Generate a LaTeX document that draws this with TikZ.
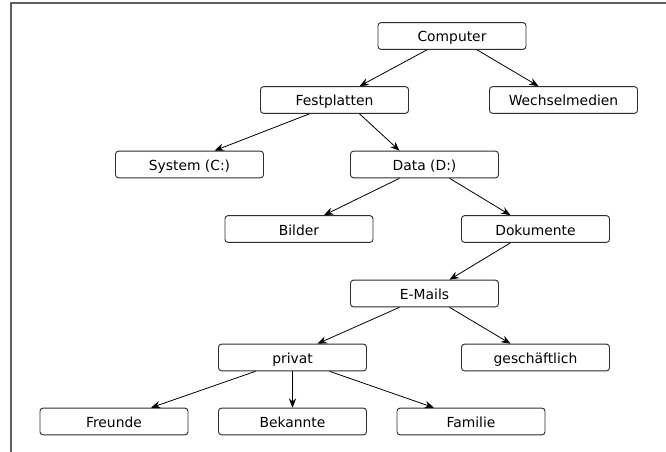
\documentclass[tikz,border=0pt]{standalone}
\usepackage{fontspec}
\setmainfont{DejaVu Sans}
\usetikzlibrary{arrows.meta}
\definecolor{framegray}{RGB}{95,95,95}
\definecolor{boxline}{RGB}{45,45,45}

\begin{document}
\begin{tikzpicture}[x=0.75pt, y=-0.75pt,
  folder/.style={draw=boxline, line width=0.7pt, rounded corners=2.25pt, fill=white,
    minimum width=111pt, minimum height=20pt, inner sep=0pt,
    text height=9.5pt, text depth=0.5pt, font=\fontsize{10.4}{12}\selectfont},
  link/.style={-{Stealth[length=7pt, width=5.5pt]}, black, line width=0.6pt}]
  \useasboundingbox (0,0) rectangle (666,452);
  \draw[framegray, line width=1.1pt] (11,452) -- (11,3) -- (666,3);

  \node[folder] (computer) at (452, 36) {Computer};
  \node[folder] (festplatten) at (334.5, 100) {Festplatten};
  \node[folder] (wechsel) at (563.5, 100) {Wechselmedien};
  \node[folder] (system) at (189.5, 164.5) {System (C:)};
  \node[folder] (data) at (424.5, 164.5) {Data (D:)};
  \node[folder] (bilder) at (299, 229) {Bilder};
  \node[folder] (dokumente) at (535.5, 229) {Dokumente};
  \node[folder] (emails) at (424.5, 293.5) {E-Mails};
  \node[folder] (privat) at (292.5, 357.5) {privat};
  \node[folder] (geschaeft) at (535.5, 357.5) {geschäftlich};
  \node[folder] (freunde) at (114, 421.5) {Freunde};
  \node[folder] (bekannte) at (292.5, 421.5) {Bekannte};
  \node[folder] (familie) at (471, 421.5) {Familie};

  \draw[link] ([xshift=-18.75pt]computer.south) -- ([xshift=18.75pt]festplatten.north);
  \draw[link] ([xshift=18.75pt]computer.south) -- ([xshift=-18.75pt]wechsel.north);
  \draw[link] ([xshift=-18.75pt]festplatten.south) -- ([xshift=18.75pt]system.north);
  \draw[link] ([xshift=18.75pt]festplatten.south) -- ([xshift=-18.75pt]data.north);
  \draw[link] ([xshift=-18.75pt]data.south) -- ([xshift=18.75pt]bilder.north);
  \draw[link] ([xshift=18.75pt]data.south) -- ([xshift=-18.75pt]dokumente.north);
  \draw[link] ([xshift=-18.75pt]dokumente.south) -- ([xshift=18.75pt]emails.north);
  \draw[link] ([xshift=-18.75pt]emails.south) -- ([xshift=18.75pt]privat.north);
  \draw[link] ([xshift=18.75pt]emails.south) -- ([xshift=-18.75pt]geschaeft.north);
  \draw[link] ([xshift=-27.75pt]privat.south) -- ([xshift=27.75pt]freunde.north);
  \draw[link] (privat.south) -- (bekannte.north);
  \draw[link] ([xshift=27.75pt]privat.south) -- ([xshift=-27.75pt]familie.north);
\end{tikzpicture}
\end{document}
